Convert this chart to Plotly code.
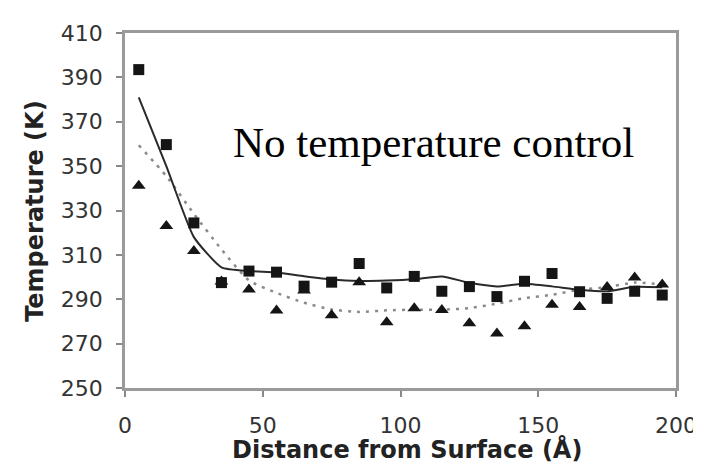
import plotly.graph_objects as go

distance = [5, 15, 25, 35, 45, 55, 65, 75, 85, 95, 105, 115, 125, 135, 145, 155, 165, 175, 185, 195]
temp_squares = [393.5, 359.7, 324.4, 297.5, 302.7, 302.2, 295.9, 297.7, 306.1, 295.1,
                300.3, 293.6, 295.7, 291.2, 298.1, 301.6, 293.4, 290.4, 293.6, 291.9]
temp_triangles = [341.2, 323.0, 311.8, 298.0, 294.4, 284.9, 294.0, 282.8, 297.7, 279.6,
                  286.0, 285.1, 279.2, 274.6, 277.8, 287.5, 286.5, 295.5, 299.8, 296.6]
temp_solid = [381.0, 350.0, 318.0, 304.4, 302.7, 302.1, 300.4, 298.9, 298.2, 298.4,
              299.0, 300.3, 297.4, 295.8, 297.0, 295.8, 294.3, 293.6, 295.6, 295.4]
temp_dotted = [359.4, 345.5, 328.5, 312.5, 298.5, 292.9, 288.4, 285.4, 284.3, 285.0,
               285.3, 285.3, 286.0, 288.0, 290.5, 292.0, 294.3, 295.5, 297.5, 296.6]

x_ticks = [0, 50, 100, 150, 200]
y_ticks = [250, 270, 290, 310, 330, 350, 370, 390, 410]

fig = go.Figure()
fig.add_trace(go.Scatter(x=distance, y=temp_dotted, mode="lines",
                         line=dict(color="#8a8a8a", width=2.5, dash="3px,6px", shape="spline", smoothing=0.6),
                         showlegend=False))
fig.add_trace(go.Scatter(x=distance, y=temp_solid, mode="lines",
                         line=dict(color="#2a2a2a", width=2, shape="spline", smoothing=0.5),
                         showlegend=False))
fig.add_trace(go.Scatter(x=distance, y=temp_squares, mode="markers",
                         marker=dict(symbol="square", size=11, color="#151515"),
                         showlegend=False))
fig.add_trace(go.Scatter(x=distance, y=temp_triangles, mode="markers",
                         marker=dict(symbol="triangle-up", size=12, color="#151515"),
                         showlegend=False))

axis_common = dict(showgrid=False, zeroline=False, showline=True, linecolor="#9a9a9a",
                   linewidth=2.5, mirror=True, ticks="outside", ticklen=6, tickwidth=1.5,
                   tickcolor="#888888",
                   tickfont=dict(family="DejaVu Sans", size=22, color="#333333"))

fig.update_xaxes(range=[0, 200], tickvals=x_ticks, ticklabelstandoff=10, **axis_common)
fig.update_yaxes(range=[250, 410], tickvals=y_ticks, ticklabelstandoff=9, **axis_common)

fig.add_annotation(text="No temperature control", xref="paper", yref="paper",
                   x=0.5597, y=0.6915, xanchor="center", yanchor="middle", showarrow=False,
                   font=dict(family="Liberation Serif, Times New Roman", size=43, color="#000000"))
fig.add_annotation(text="<b>Distance from Surface (Å)</b>", xref="paper", yref="paper",
                   x=0.5125, y=-0.1724, xanchor="center", yanchor="middle", showarrow=False,
                   font=dict(family="DejaVu Sans", size=24, color="#222222"))
fig.add_annotation(text="<b>Temperature (K)</b>", xref="paper", yref="paper",
                   x=-0.1645, y=0.5, xanchor="center", yanchor="middle", showarrow=False,
                   textangle=-90,
                   font=dict(family="DejaVu Sans", size=24, color="#222222"))

fig.update_layout(width=701, height=476, margin=dict(l=117, r=23, t=25, b=96),
                  paper_bgcolor="white", plot_bgcolor="white")

fig.write_html("out.html")
